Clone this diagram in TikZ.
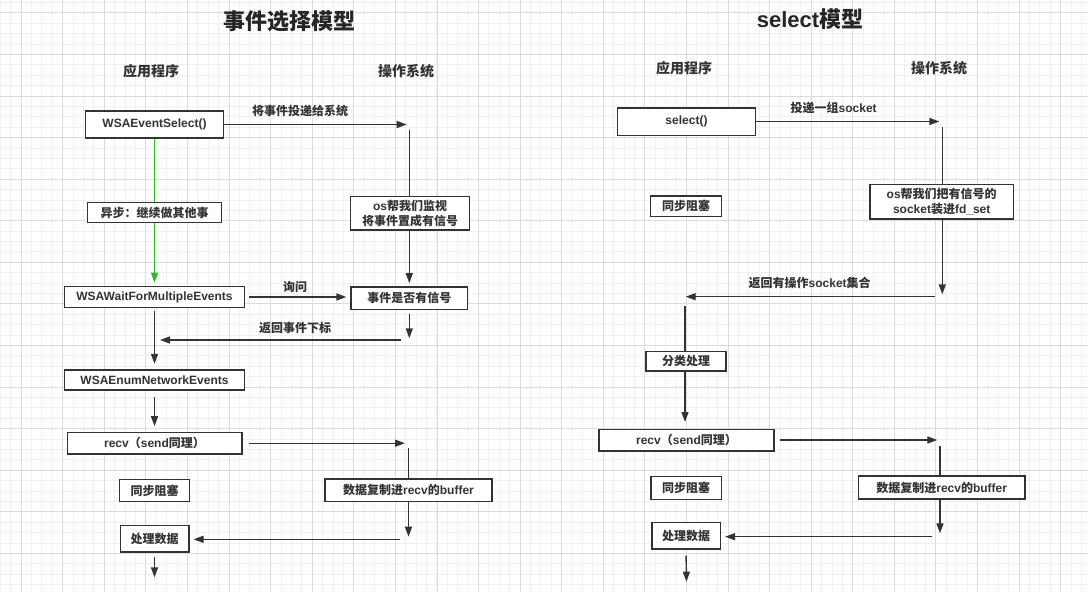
\documentclass[tikz,border=0pt]{standalone}
\usepackage{fontspec}
\setmainfont{Liberation Sans}
\newfontfamily\zhfont{Noto Sans CJK SC}
\usetikzlibrary{arrows.meta}
\newcommand\zh[1]{{\zhfont #1}}
\definecolor{linec}{HTML}{333333}
\definecolor{greenc}{HTML}{2EB82E}
\definecolor{gridmin}{HTML}{F0F0F0}
\definecolor{gridmaj}{HTML}{DCDCDC}
\begin{document}
\begin{tikzpicture}[x=1pt,y=-1pt,
 box/.style={draw=linec,line width=1.3pt,fill=white,inner sep=0pt,text=linec,font=\bfseries\fontsize{12}{15}\selectfont,align=center},
 lab/.style={text=linec,font=\bfseries\fontsize{12}{14}\selectfont,inner sep=0pt},
 hdr/.style={text=linec,font=\bfseries\fontsize{14}{16}\selectfont,inner sep=0pt},
 ttl/.style={text=black!85,font=\bfseries\fontsize{22}{24}\selectfont,inner sep=0pt},
 conn/.style={draw=linec,line width=1.4pt},
 arr/.style={conn,-{Triangle[length=10pt,width=7pt]}},
 garr/.style={draw=greenc,line width=1.4pt},
]
\useasboundingbox (0,0) rectangle (1088,592);
\fill[white] (0,0) rectangle (1088,592);
% grid
\foreach \i in {0,...,104} \draw[gridmin,line width=0.6pt] ({0.2+\i*10.395},0) -- ({0.2+\i*10.395},592);
\foreach \i in {0,...,56} \draw[gridmin,line width=0.6pt] (0,{2.3+\i*10.395}) -- (1088,{2.3+\i*10.395});
\foreach \i in {0,...,25} \draw[gridmaj,line width=0.6pt] ({21+\i*41.58},0) -- ({21+\i*41.58},592);
\foreach \i in {0,...,13} \draw[gridmaj,line width=0.6pt] (0,{12.7+\i*41.58}) -- (1088,{12.7+\i*41.58});

% titles and headers
\node[ttl] (t1) at (289,21) {\zh{事件选择模型}};
\node[ttl] (t2) at (810,19) {select\zh{模型}};
\node[hdr] (h1) at (151,71) {\zh{应用程序}};
\node[hdr] (h2) at (406,71) {\zh{操作系统}};
\node[hdr] (h3) at (684,68) {\zh{应用程序}};
\node[hdr] (h4) at (939,68) {\zh{操作系统}};

% ---------- left: event select model ----------
\node[box,minimum width=138pt,minimum height=27pt] (wsa) at (154.5,124.5) {WSAEventSelect()};
\node[box,minimum width=134pt,minimum height=20pt] (async) at (154.5,212.7) {\zh{异步：继续做其他事}};
\node[box,minimum width=118.6pt,minimum height=33.3pt] (osmon) at (410,213.3) {os\zh{帮我们监视}\\\zh{将事件置成有信号}};
\node[box,minimum width=180.3pt,minimum height=20.6pt] (wait) at (154.5,297) {WSAWaitForMultipleEvents};
\node[box,minimum width=116.6pt,minimum height=22.3pt] (sig) at (409.3,298) {\zh{事件是否有信号}};
\node[box,minimum width=179.6pt,minimum height=20pt] (enum) at (154.5,380) {WSAEnumNetworkEvents};
\node[box,minimum width=174.7pt,minimum height=21.7pt] (recv1) at (154.5,443.2) {recv\zh{（}send\zh{同理）}};
\node[box,minimum width=69.6pt,minimum height=22.4pt] (blk1) at (154.5,490.5) {\zh{同步阻塞}};
\node[box,minimum width=167pt,minimum height=22.7pt] (copy1) at (408.5,490.3) {\zh{数据复制进}recv\zh{的}buffer};
\node[box,minimum width=68.7pt,minimum height=26.3pt] (proc1) at (154.5,538.9) {\zh{处理数据}};

\coordinate (a1) at (406.7,124.5);
\coordinate (o1) at (409.3,130);
\coordinate (s1) at (409.3,338.3);
\coordinate (r1a) at (400.7,340);
\coordinate (r1b) at (160,340);
\coordinate (v1) at (405,443.2);
\coordinate (o2) at (408.5,448.3);
\coordinate (d1) at (408.5,536.7);
\coordinate (b1) at (400,539.3);
\coordinate (e1) at (154.5,577.3);

\draw[arr] (wsa.east) -- (a1);
\node[lab] (l1) at (300,111) {\zh{将事件投递给系统}};
\draw[conn] (o1) -- (o1 |- osmon.north);
\draw[arr,shorten >=3pt] (osmon.south -| sig.north) -- (sig.north);
\draw[garr] (wsa.south) -- (async.north);
\draw[garr,-{Triangle[length=10pt,width=7pt]},shorten >=3.5pt] (async.south) -- (wait.north);
\draw[arr,shorten <=4pt,shorten >=4pt] (wait.east) -- (wait.east -| sig.west);
\node[lab] (l2) at (295,287) {\zh{询问}};
\draw[arr,shorten <=4pt] (sig.south) -- (s1);
\draw[arr] (r1a) -- (r1b);
\node[lab] (l3) at (295,328) {\zh{返回事件下标}};
\draw[arr,shorten <=3pt,shorten >=5.5pt] (wait.south) -- (enum.north);
\draw[arr,shorten <=6pt,shorten >=5.5pt] (enum.south) -- (recv1.north);
\draw[arr,shorten <=6pt] (recv1.east) -- (v1);
\draw[conn] (o2) -- (copy1.north);
\draw[arr] (copy1.south) -- (d1);
\draw[arr,shorten >=4pt] (b1) -- (b1 -| proc1.east);
\draw[arr,shorten <=4pt] (proc1.south) -- (e1);

% ---------- right: select model ----------
\node[box,minimum width=138.4pt,minimum height=27.3pt] (sel) at (686.5,121.5) {select()};
\node[box,minimum width=71pt,minimum height=20.7pt] (blk2a) at (686,206.3) {\zh{同步阻塞}};
\node[box,minimum width=143.3pt,minimum height=34.7pt] (osfd) at (941.7,201.7) {os\zh{帮我们把有信号的}\\socket\zh{装进}fd\_set};
\node[box,minimum width=80pt,minimum height=19.3pt] (cls) at (686,361.3) {\zh{分类处理}};
\node[box,minimum width=175pt,minimum height=21.7pt] (recv2) at (686.5,440) {recv\zh{（}send\zh{同理）}};
\node[box,minimum width=70.3pt,minimum height=22.6pt] (blk2b) at (686,488) {\zh{同步阻塞}};
\node[box,minimum width=166.7pt,minimum height=23pt] (copy2) at (941.7,487.5) {\zh{数据复制进}recv\zh{的}buffer};
\node[box,minimum width=68.3pt,minimum height=26.7pt] (proc2) at (686,535.7) {\zh{处理数据}};

\coordinate (a2) at (939.3,121.5);
\coordinate (o3) at (942.3,127.3);
\coordinate (s2) at (942.3,294.3);
\coordinate (r2a) at (935,296.7);
\coordinate (r2b) at (685.7,296.7);
\coordinate (c2) at (685,306);
\coordinate (v2) at (937.3,440);
\coordinate (o4) at (940,446);
\coordinate (d2) at (940,533.3);
\coordinate (b2) at (932.3,536.7);
\coordinate (e2) at (686.5,581.7);

\draw[arr] (sel.east) -- (a2);
\node[lab] (l4) at (833.7,107.5) {\zh{投递一组}socket};
\draw[conn] (o3) -- (o3 |- osfd.north);
\draw[arr] (o3 |- osfd.south) -- (s2);
\draw[arr] (r2a) -- (r2b);
\node[lab] (l5) at (809.7,283) {\zh{返回有操作}socket\zh{集合}};
\draw[conn] (c2) -- (c2 |- cls.north);
\draw[arr,shorten >=6.5pt] (c2 |- cls.south) -- (c2 |- recv2.north);
\draw[arr,shorten <=5.3pt] (recv2.east) -- (v2);
\draw[conn] (o4) -- (o4 |- copy2.north);
\draw[arr] (o4 |- copy2.south) -- (d2);
\draw[arr,shorten >=4.3pt] (b2) -- (b2 -| proc2.east);
\draw[arr,shorten <=6pt] (proc2.south) -- (e2);
\end{tikzpicture}
\end{document}
